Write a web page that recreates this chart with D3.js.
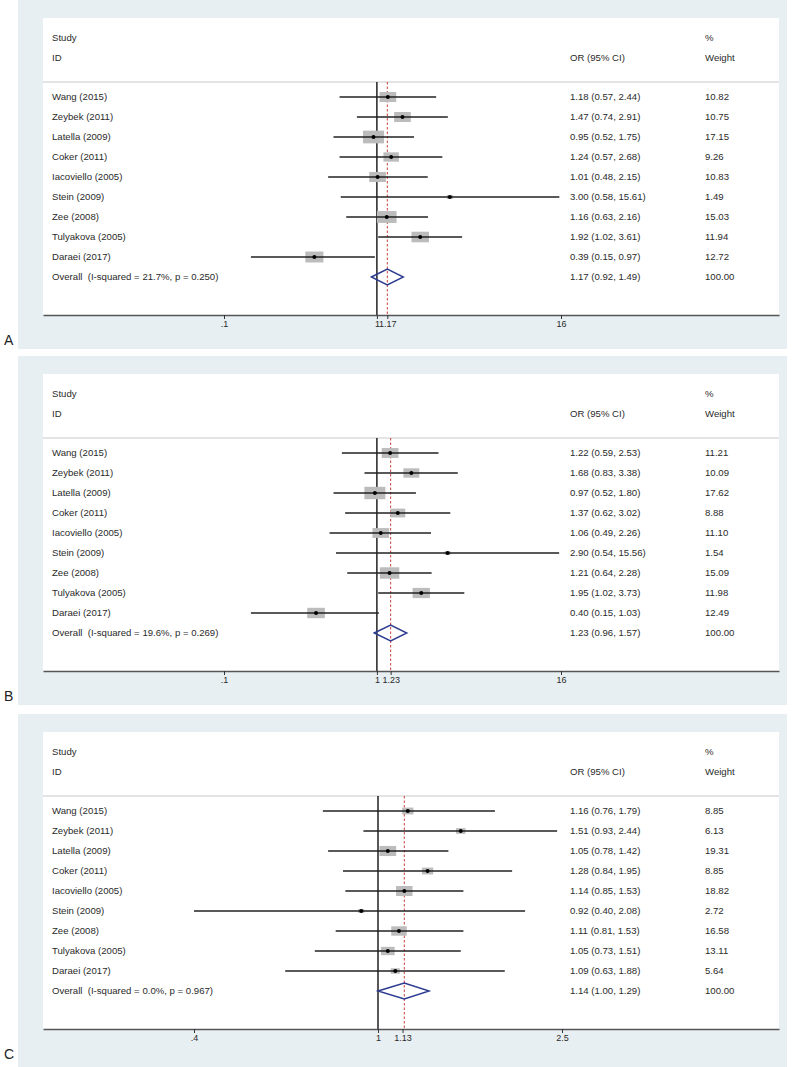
<!DOCTYPE html>
<html>
<head>
<meta charset="utf-8">
<script src="https://cdn.jsdelivr.net/npm/d3@7/dist/d3.min.js"></script>
<style>
  html, body { margin: 0; padding: 0; background: #ffffff; }
  svg { display: block; }
  text { font-family: "Liberation Sans", Arial, Helvetica, sans-serif; }
</style>
</head>
<body>
<svg id="chart" width="800" height="1067"></svg>
<script>
// ---------- DATA ----------
const studies = ["Wang (2015)", "Zeybek (2011)", "Latella (2009)", "Coker (2011)", "Iacoviello (2005)",
                 "Stein (2009)", "Zee (2008)", "Tulyakova (2005)", "Daraei (2017)"];

// Panel A
const orA = [1.18, 1.47, 0.95, 1.24, 1.01, 3.00, 1.16, 1.92, 0.39];
const loA = [0.57, 0.74, 0.52, 0.57, 0.48, 0.58, 0.63, 1.02, 0.15];
const hiA = [2.44, 2.91, 1.75, 2.68, 2.15, 15.61, 2.16, 3.61, 0.97];
const wtA = [10.82, 10.75, 17.15, 9.26, 10.83, 1.49, 15.03, 11.94, 12.72];
const overallA = [1.17, 0.92, 1.49];
const hetA = ["21.7%", "0.250"];
const ticksA = [0.1, 1, 1.17, 16];
const tickLabelsA = [".1", "1", "1.17", "16"];

// Panel B
const orB = [1.22, 1.68, 0.97, 1.37, 1.06, 2.90, 1.21, 1.95, 0.40];
const loB = [0.59, 0.83, 0.52, 0.62, 0.49, 0.54, 0.64, 1.02, 0.15];
const hiB = [2.53, 3.38, 1.80, 3.02, 2.26, 15.56, 2.28, 3.73, 1.03];
const wtB = [11.21, 10.09, 17.62, 8.88, 11.10, 1.54, 15.09, 11.98, 12.49];
const overallB = [1.23, 0.96, 1.57];
const hetB = ["19.6%", "0.269"];
const ticksB = [0.1, 1, 1.23, 16];
const tickLabelsB = [".1", "1", "1.23", "16"];

// Panel C
const orC = [1.16, 1.51, 1.05, 1.28, 1.14, 0.92, 1.11, 1.05, 1.09];
const loC = [0.76, 0.93, 0.78, 0.84, 0.85, 0.40, 0.81, 0.73, 0.63];
const hiC = [1.79, 2.44, 1.42, 1.95, 1.53, 2.08, 1.53, 1.51, 1.88];
const wtC = [8.85, 6.13, 19.31, 8.85, 18.82, 2.72, 16.58, 13.11, 5.64];
const overallC = [1.14, 1.00, 1.29];
const hetC = ["0.0%", "0.967"];
const ticksC = [0.4, 1, 1.13, 2.5];
const tickLabelsC = [".4", "1", "1.13", "2.5"];

const panelLabels = ["A", "B", "C"];

// ---------- LAYOUT / STYLE ----------
const svg = d3.select("#chart");
const W = 800;
const bgColor = "#e8eff2";
const textColor = "#2a2a2a";
const fs = 9.6;

const panels = [
  { label: "A", top: 0,   bottom: 349,  or: orA, lo: loA, hi: hiA, wt: wtA, ov: overallA, het: hetA,
    ticks: ticksA, tickLabels: tickLabelsA, tickDomain: [0.1, 16], tickRange: [224, 561], kw: 5.07, kh: 3.07 },
  { label: "B", top: 356, bottom: 705,  or: orB, lo: loB, hi: hiB, wt: wtB, ov: overallB, het: hetB,
    ticks: ticksB, tickLabels: tickLabelsB, tickDomain: [0.1, 16], tickRange: [224, 561], kw: 5.0, kh: 2.95 },
  { label: "C", top: 714, bottom: 1067, or: orC, lo: loC, hi: hiC, wt: wtC, ov: overallC, het: hetC,
    ticks: ticksC, tickLabels: tickLabelsC, tickDomain: [0.4, 2.5], tickRange: [194, 562], kw: 3.8, kh: 2.3 }
];

const plotLeft = 43, plotRight = 779;
const colStudy = 52, colOR = 570, colWt = 705;

panels.forEach(p => {
  const g = svg.append("g");
  const T = p.top;

  // outer background
  g.append("rect").attr("x", 18).attr("y", T).attr("width", 787 - 18).attr("height", p.bottom - T)
    .attr("fill", bgColor);

  const axisY = T + 315;
  // white plot area
  g.append("rect").attr("x", plotLeft).attr("y", T + 18).attr("width", plotRight - plotLeft)
    .attr("height", axisY - (T + 18)).attr("fill", "#ffffff");

  // panel label
  g.append("text").attr("x", 4).attr("y", T + 345).attr("font-size", 14).attr("fill", "#222")
    .text(p.label);

  // header texts
  const hdr = [[colStudy, T + 38, "Study"], [colStudy, T + 58, "ID"], [colOR, T + 58, "OR (95% CI)"],
               [colWt, T + 38, "%"], [colWt, T + 58, "Weight"]];
  hdr.forEach(h => g.append("text").attr("x", h[0]).attr("y", h[1]).attr("dy", "0.35em")
    .attr("font-size", fs).attr("fill", textColor).text(h[2]));

  const headerY = T + 82;
  g.append("line").attr("x1", plotLeft).attr("x2", plotRight).attr("y1", headerY).attr("y2", headerY)
    .attr("stroke", "#c9c9c9").attr("stroke-width", 1);

  // x scale (log), calibrated from tick positions then extended to full plot width
  const base = d3.scaleLog().domain(p.tickDomain).range(p.tickRange);
  const x = d3.scaleLog().domain([base.invert(plotLeft), base.invert(plotRight)]).range([plotLeft, plotRight]);

  const y = d3.scalePoint().domain(d3.range(studies.length + 1)).range([T + 97, T + 97 + 20 * studies.length]);

  // reference lines
  g.append("line").attr("x1", x(1)).attr("x2", x(1)).attr("y1", headerY).attr("y2", axisY)
    .attr("stroke", "#111").attr("stroke-width", 1.4);
  g.append("line").attr("x1", x(p.ov[0])).attr("x2", x(p.ov[0])).attr("y1", headerY).attr("y2", axisY)
    .attr("stroke", "#c8413a").attr("stroke-width", 1).attr("stroke-dasharray", "2.5,2");

  // rows
  const rows = studies.map((s, i) => ({ s, i, or: p.or[i], lo: p.lo[i], hi: p.hi[i], wt: p.wt[i] }));

  g.selectAll(".box").data(rows).enter().append("rect")
    .attr("x", d => x(d.or) - p.kw * Math.sqrt(d.wt) / 2)
    .attr("y", d => y(d.i) - p.kh * Math.sqrt(d.wt) / 2)
    .attr("width", d => p.kw * Math.sqrt(d.wt))
    .attr("height", d => p.kh * Math.sqrt(d.wt))
    .attr("fill", "#bcbcbc");

  g.selectAll(".ci").data(rows).enter().append("line")
    .attr("x1", d => x(d.lo)).attr("x2", d => x(d.hi))
    .attr("y1", d => y(d.i)).attr("y2", d => y(d.i))
    .attr("stroke", "#222").attr("stroke-width", 1.3);

  g.selectAll(".dot").data(rows).enter().append("circle")
    .attr("cx", d => x(d.or)).attr("cy", d => y(d.i)).attr("r", 2)
    .attr("fill", "#000");

  g.selectAll(".lbl").data(rows).enter().append("text")
    .attr("x", colStudy).attr("y", d => y(d.i)).attr("dy", "0.35em")
    .attr("font-size", fs).attr("fill", textColor).text(d => d.s);
  g.selectAll(".ortxt").data(rows).enter().append("text")
    .attr("x", colOR).attr("y", d => y(d.i)).attr("dy", "0.35em")
    .attr("font-size", fs).attr("fill", textColor)
    .text(d => `${d.or.toFixed(2)} (${d.lo.toFixed(2)}, ${d.hi.toFixed(2)})`);
  g.selectAll(".wttxt").data(rows).enter().append("text")
    .attr("x", colWt).attr("y", d => y(d.i)).attr("dy", "0.35em")
    .attr("font-size", fs).attr("fill", textColor).text(d => d.wt.toFixed(2));

  // overall
  const oy = y(studies.length);
  const [oOR, oLo, oHi] = p.ov;
  g.append("path")
    .attr("d", d3.line()([[x(oLo), oy], [x(oOR), oy - 8], [x(oHi), oy], [x(oOR), oy + 8]]) + "Z")
    .attr("fill", "none").attr("stroke", "#2c3a8f").attr("stroke-width", 1.4);
  g.append("text").attr("x", colStudy).attr("y", oy).attr("dy", "0.35em").attr("font-size", fs)
    .attr("fill", textColor).attr("xml:space", "preserve")
    .text(`Overall  (I-squared = ${p.het[0]}, p = ${p.het[1]})`);
  g.append("text").attr("x", colOR).attr("y", oy).attr("dy", "0.35em").attr("font-size", fs)
    .attr("fill", textColor).text(`${oOR.toFixed(2)} (${oLo.toFixed(2)}, ${oHi.toFixed(2)})`);
  g.append("text").attr("x", colWt).attr("y", oy).attr("dy", "0.35em").attr("font-size", fs)
    .attr("fill", textColor).text((100).toFixed(2));

  // axis
  const axis = d3.axisBottom(x).tickValues(p.ticks).tickSize(4).tickSizeOuter(0)
    .tickFormat((d, i) => p.tickLabels[i]);
  const ag = g.append("g").attr("transform", `translate(0,${axisY})`).call(axis);
  ag.select(".domain").attr("stroke", "#555").attr("stroke-width", 1.5);
  ag.selectAll(".tick line").attr("stroke", "#333").attr("stroke-width", 1);
  ag.selectAll(".tick text").attr("font-size", 9).attr("fill", textColor)
    .attr("font-family", "Liberation Sans, Arial, sans-serif").attr("dy", "0.5em");
});
</script>
</body>
</html>
